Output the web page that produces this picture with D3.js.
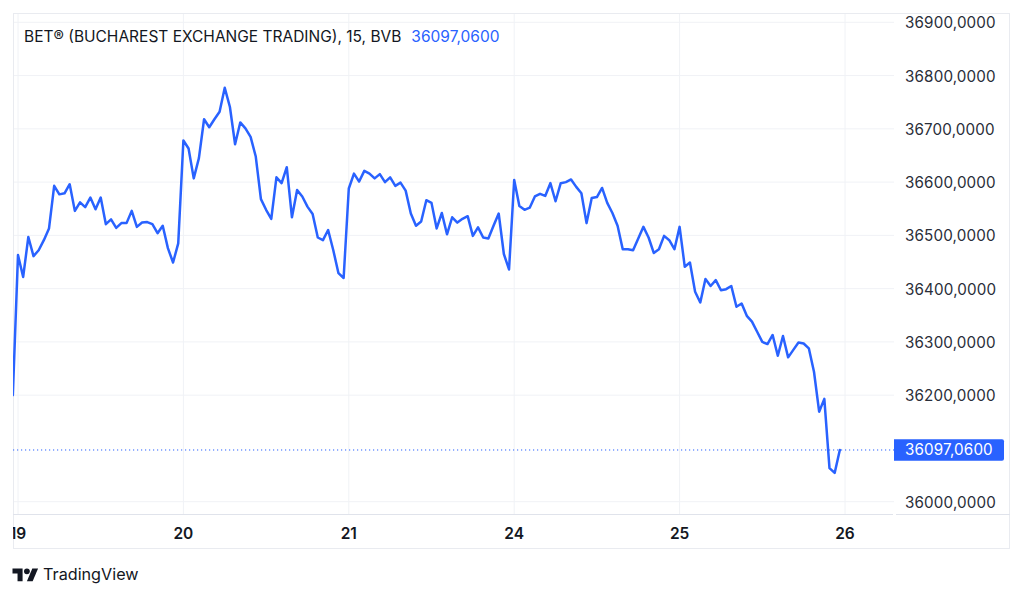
<!DOCTYPE html>
<html>
<head>
<meta charset="utf-8">
<script src="https://cdn.jsdelivr.net/npm/d3@7"></script>
<style>
  html, body { margin: 0; padding: 0; background: #ffffff; }
  svg { display: block; }
  text { font-family: Inter, "Noto Sans", Roboto, sans-serif; }
</style>
</head>
<body>
<svg id="chart" width="1024" height="596"></svg>
<script>
// ---------------- DATA ----------------
const titleText = "BET® (BUCHAREST EXCHANGE TRADING), 15, BVB";
const lastValue = 36097.06;
const dayLabels = ["19", "20", "21", "24", "25", "26"];
const barsPerDay = 32;
const yTicks = [36000, 36200, 36300, 36400, 36500, 36600, 36700, 36800, 36900];
const yTickLabels = [36000, 36200, 36300, 36400, 36500, 36600, 36700, 36800, 36900];

const prevSession = [36200];
const day19 = [36463, 36422, 36497, 36461, 36472, 36491, 36513, 36593, 36577, 36579, 36596, 36546,
               36562, 36553, 36571, 36549, 36571, 36521, 36530, 36514, 36523, 36523, 36546, 36516,
               36524, 36525, 36521, 36504, 36518, 36476, 36449, 36485];
const day20 = [36678, 36663, 36607, 36645, 36718, 36703, 36718, 36732, 36777, 36741, 36671, 36712,
               36701, 36685, 36648, 36568, 36548, 36531, 36609, 36598, 36628, 36534, 36585, 36573,
               36554, 36540, 36496, 36491, 36510, 36472, 36429, 36420];
const day21 = [36588, 36616, 36601, 36621, 36616, 36607, 36615, 36600, 36609, 36593, 36599, 36584,
               36541, 36518, 36526, 36566, 36561, 36513, 36542, 36502, 36534, 36524, 36531, 36536,
               36499, 36515, 36496, 36494, 36518, 36541, 36465, 36436];
const day24 = [36604, 36555, 36548, 36552, 36573, 36578, 36574, 36598, 36564, 36598, 36600, 36605,
               36591, 36579, 36523, 36570, 36572, 36589, 36561, 36542, 36518, 36474, 36474, 36472,
               36494, 36516, 36496, 36467, 36474, 36499, 36491, 36474];
const day25 = [36516, 36441, 36449, 36394, 36374, 36418, 36405, 36416, 36397, 36399, 36405, 36366,
               36372, 36349, 36338, 36319, 36300, 36296, 36313, 36274, 36311, 36271, 36285, 36299,
               36297, 36288, 36244, 36169, 36193, 36063, 36054, 36097.06];

// ---------------- BUILD ----------------
const sessions = [day19, day20, day21, day24, day25];
const series = prevSession.map((v, i) => ({ i: i - prevSession.length, v }));
sessions.forEach((arr, k) => arr.forEach((v, j) => series.push({ i: k * barsPerDay + j, v })));

const frame = { left: 13, top: 13, right: 1010, bottom: 549 };
const plot = { left: 13, top: 13, right: 894, bottom: 514 };

const fmtLocale = d3.formatLocale({ decimal: ",", thousands: "", grouping: [3], currency: ["", ""] });
const fmt = fmtLocale.format(".4f");

const x = d3.scaleLinear()
  .domain([0, barsPerDay * (dayLabels.length - 1)])
  .range([18, 845]);
const y = d3.scaleLinear()
  .domain([36000, 36900])
  .range([501.7, 22.3]);

const svg = d3.select("#chart");
const gridColor = "#f0f2f6";
const borderColor = "#e0e3eb";
const blue = "#2962ff";
const textColor = "#131722";

const defs = svg.append("defs");
defs.append("clipPath").attr("id", "plotClip")
  .append("rect")
  .attr("x", plot.left).attr("y", plot.top)
  .attr("width", plot.right - plot.left).attr("height", plot.bottom - plot.top);
defs.append("clipPath").attr("id", "timeClip")
  .append("rect")
  .attr("x", frame.left).attr("y", plot.bottom)
  .attr("width", plot.right - frame.left).attr("height", frame.bottom - plot.bottom);

// grid
const grid = svg.append("g").attr("clip-path", "url(#plotClip)");
grid.selectAll("line.hg").data(yTicks).join("line")
  .attr("x1", plot.left).attr("x2", plot.right)
  .attr("y1", d => y(d)).attr("y2", d => y(d))
  .attr("stroke", gridColor).attr("stroke-width", 1);
grid.selectAll("line.vg").data(dayLabels).join("line")
  .attr("x1", (d, k) => x(k * barsPerDay)).attr("x2", (d, k) => x(k * barsPerDay))
  .attr("y1", plot.top).attr("y2", plot.bottom)
  .attr("stroke", gridColor).attr("stroke-width", 1);

// frame
svg.append("rect")
  .attr("x", frame.left + 0.5).attr("y", frame.top + 0.5)
  .attr("width", frame.right - frame.left - 1).attr("height", frame.bottom - frame.top - 1)
  .attr("fill", "none").attr("stroke", "#e9ebf0").attr("stroke-width", 1);
// time axis line (with small break at price scale)
svg.append("line")
  .attr("x1", frame.left).attr("x2", plot.right - 1)
  .attr("y1", plot.bottom + 0.5).attr("y2", plot.bottom + 0.5)
  .attr("stroke", borderColor).attr("stroke-width", 1);
svg.append("line")
  .attr("x1", plot.right + 2).attr("x2", frame.right)
  .attr("y1", plot.bottom + 0.5).attr("y2", plot.bottom + 0.5)
  .attr("stroke", borderColor).attr("stroke-width", 1);

// last value dotted line
svg.append("line")
  .attr("clip-path", "url(#plotClip)")
  .attr("x1", plot.left).attr("x2", plot.right)
  .attr("y1", y(lastValue)).attr("y2", y(lastValue))
  .attr("stroke", blue).attr("stroke-width", 1)
  .attr("stroke-dasharray", "1.2,2.8");

// line series
const line = d3.line().x(d => x(d.i)).y(d => y(d.v));
svg.append("path")
  .datum(series)
  .attr("clip-path", "url(#plotClip)")
  .attr("d", line)
  .attr("fill", "none")
  .attr("stroke", blue)
  .attr("stroke-width", 2.5)
  .attr("stroke-linejoin", "round")
  .attr("stroke-linecap", "round");

// y axis labels
const yAxis = d3.axisRight(y).tickValues(yTickLabels).tickSize(0).tickPadding(0).tickFormat(fmt);
const yg = svg.append("g").attr("transform", `translate(${905},0)`).call(yAxis);
yg.select(".domain").remove();
yg.selectAll("text")
  .attr("fill", "#2a2e39")
  .attr("font-size", 15.2)
  .attr("dy", "0.36em")
  .attr("letter-spacing", "0.15px");

// last value badge
const badgeH = 21.5;
const yl = y(lastValue);
const bx0 = plot.right, bx1 = 1004, r = 2;
const bp = d3.path();
bp.moveTo(bx0, yl - badgeH / 2);
bp.lineTo(bx1 - r, yl - badgeH / 2);
bp.quadraticCurveTo(bx1, yl - badgeH / 2, bx1, yl - badgeH / 2 + r);
bp.lineTo(bx1, yl + badgeH / 2 - r);
bp.quadraticCurveTo(bx1, yl + badgeH / 2, bx1 - r, yl + badgeH / 2);
bp.lineTo(bx0, yl + badgeH / 2);
bp.closePath();
svg.append("path").attr("d", bp.toString()).attr("fill", blue);
svg.append("text")
  .attr("x", 905).attr("y", yl).attr("dy", "0.36em")
  .attr("fill", "#ffffff").attr("font-size", 15.2).attr("letter-spacing", "0.15px")
  .text(fmt(lastValue));

// time axis labels
const tg = svg.append("g").attr("clip-path", "url(#timeClip)");
tg.selectAll("text").data(dayLabels).join("text")
  .attr("x", (d, k) => x(k * barsPerDay))
  .attr("y", 538.5)
  .attr("text-anchor", "middle")
  .attr("font-size", 15.5)
  .attr("font-weight", 600)
  .attr("fill", textColor)
  .text(d => d);

// title
const title = svg.append("text").attr("x", 24).attr("y", 41.5)
  .attr("font-size", 15.5).attr("fill", textColor);
title.append("tspan").text(titleText);
title.append("tspan").attr("dx", 10).attr("fill", blue).text(fmt(lastValue));

// TradingView logo
const logo = svg.append("g").attr("transform", "translate(12.5,565.5) scale(0.72)").attr("fill", textColor);
logo.append("path").attr("d", "M14 22H7V11H0V4h14v18z");
logo.append("path").attr("d", "M28 22h-8l7.5-18h8L28 22z");
logo.append("circle").attr("cx", 20).attr("cy", 8).attr("r", 4);
svg.append("text").attr("x", 43).attr("y", 580)
  .attr("font-size", 16.2).attr("font-weight", 400).attr("fill", textColor)
  .text("TradingView");
</script>
</body>
</html>
